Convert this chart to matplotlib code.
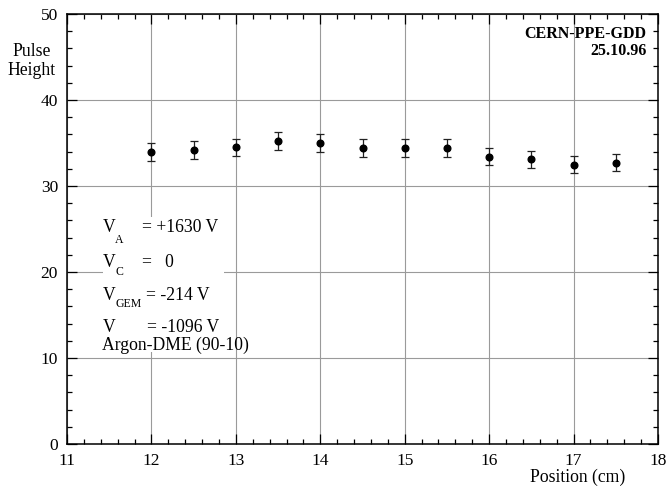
import numpy as np
import matplotlib
matplotlib.use('Agg')
import matplotlib.pyplot as plt
from matplotlib.patches import Rectangle
from matplotlib.ticker import MultipleLocator

plt.rcParams['font.family'] = ['Liberation Serif', 'DejaVu Serif']

# data
position = [12.0, 12.5, 13.0, 13.5, 14.0, 14.5, 15.0, 15.5, 16.0, 16.5, 17.0, 17.5]
pulse_height = [33.9, 34.15, 34.5, 35.2, 34.95, 34.4, 34.4, 34.4, 33.4, 33.1, 32.5, 32.7]
pulse_err = [1.05, 1.05, 1.0, 1.05, 1.05, 1.05, 1.05, 1.05, 1.0, 1.0, 0.95, 1.0]

fig = plt.figure(figsize=(6.71, 4.88), dpi=100)
ax = fig.add_axes([67 / 671, 44 / 488, 591 / 671, 430 / 488])

ax.errorbar(position, pulse_height, yerr=pulse_err, fmt='o', color='black',
            ecolor='#222222', elinewidth=0.9, capsize=2.6, capthick=0.9,
            markersize=4.8, zorder=4)

ax.set_xlim(11, 18)
ax.set_ylim(0, 50)
ax.xaxis.set_major_locator(MultipleLocator(1))
ax.xaxis.set_minor_locator(MultipleLocator(0.2))
ax.yaxis.set_major_locator(MultipleLocator(10))
ax.yaxis.set_minor_locator(MultipleLocator(2))
ax.tick_params(which='both', direction='in', top=True, right=True,
               labelsize=12.5, pad=6.5, width=0.9, color='black')
ax.tick_params(which='major', length=7)
ax.tick_params(which='minor', length=3.5)
for s in ax.spines.values():
    s.set_linewidth(1.1)

ax.set_axisbelow(True)
ax.grid(True, which='major', color='#9a9a9a', linewidth=0.8)

# white box behind the settings text
ax.add_patch(Rectangle((11.426, 10.7), 1.433, 15.7, facecolor='white',
                       edgecolor='none', zorder=1))

fs = 12.7
sub = 8.5
ax.text(11.426, 24.65, 'V', fontsize=fs, va='baseline', zorder=3)
ax.text(11.569, 23.37, 'A', fontsize=sub, va='baseline', zorder=3)
ax.text(11.885, 24.65, '= +1630 V', fontsize=fs, va='baseline', zorder=3)

ax.text(11.426, 20.62, 'V', fontsize=fs, va='baseline', zorder=3)
ax.text(11.569, 19.65, 'C', fontsize=sub, va='baseline', zorder=3)
ax.text(11.885, 20.62, '=   0', fontsize=fs, va='baseline', zorder=3)

ax.text(11.426, 16.74, 'V', fontsize=fs, va='baseline', zorder=3)
ax.text(11.569, 15.93, 'GEM', fontsize=sub, va='baseline', zorder=3)
ax.text(11.93, 16.74, '= -214 V', fontsize=fs, va='baseline', zorder=3)

ax.text(11.426, 13.06, 'V', fontsize=fs, va='baseline', zorder=3)
ax.text(11.95, 13.06, '= -1096 V', fontsize=fs, va='baseline', zorder=3)

ax.text(11.41, 10.93, 'Argon-DME (90-10)', fontsize=fs, va='baseline', zorder=3)

ax.text(17.866, 47.2, 'CERN-PPE-GDD', fontsize=11.5, fontweight='bold',
        ha='right', va='baseline')
ax.text(17.866, 45.23, '25.10.96', fontsize=11.5, fontweight='bold',
        ha='right', va='baseline')

fig.text(32 / 671, 1 - 56 / 488, 'Pulse', fontsize=fs, ha='center', va='baseline')
fig.text(32 / 671, 1 - 75 / 488, 'Height', fontsize=fs, ha='center', va='baseline')
fig.text(625 / 671, 1 - 482 / 488, 'Position (cm)', fontsize=fs, ha='right', va='baseline')

fig.savefig('out.png', dpi=100)
